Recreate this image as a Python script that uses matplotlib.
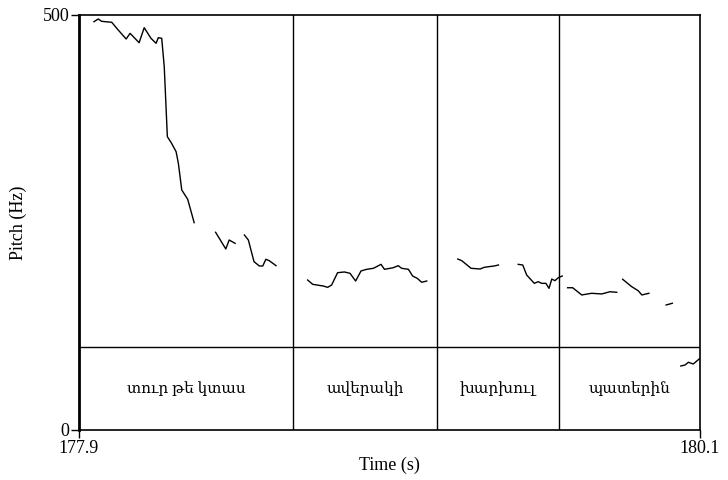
import matplotlib
matplotlib.use("Agg")
import matplotlib.pyplot as plt

plt.rcParams['font.family'] = ['Liberation Serif', 'DejaVu Serif']

# Pitch contour segments (time in s, pitch in Hz)
seg1_t = [177.953, 177.968, 177.980, 178.016, 178.039, 178.067, 178.081, 178.113, 178.131,
          178.155, 178.173, 178.181, 178.193, 178.202, 178.213, 178.228, 178.244, 178.252,
          178.264, 178.285, 178.308]
seg1_f = [491.9, 495.2, 492.4, 491.2, 481.9, 471.1, 477.9, 466.6, 484.7,
          471.9, 465.9, 472.7, 471.9, 437.7, 353.4, 345.4, 335.3, 321.3,
          289.2, 278.0, 249.8]
seg2_t = [178.384, 178.420, 178.432, 178.453]
seg2_f = [238.2, 218.1, 228.9, 224.9]
seg3_t = [178.486, 178.500, 178.520, 178.539, 178.551, 178.562, 178.574, 178.598]
seg3_f = [234.9, 228.9, 202.8, 197.6, 197.6, 205.7, 204.0, 198.0]
seg4_t = [178.710, 178.728, 178.765, 178.781, 178.795, 178.816, 178.840, 178.860, 178.880,
          178.899, 178.919, 178.943, 178.970, 178.982, 179.013, 179.031, 179.043, 179.067,
          179.082, 179.098, 179.114, 179.132]
seg4_f = [180.7, 175.5, 173.5, 171.9, 174.7, 189.5, 190.4, 188.8, 179.5,
          191.6, 193.6, 194.8, 199.6, 193.6, 195.5, 198.0, 194.8, 193.6,
          185.5, 182.8, 178.0, 179.5]
seg5_t = [179.242, 179.256, 179.289, 179.321, 179.336, 179.350, 179.371, 179.386]
seg5_f = [206.0, 204.0, 194.8, 194.0, 196.0, 196.7, 197.6, 198.8]
seg6_t = [179.456, 179.472, 179.486, 179.513, 179.527, 179.539, 179.554, 179.565, 179.575,
          179.586, 179.598, 179.612]
seg6_f = [199.6, 198.8, 186.7, 176.7, 178.7, 176.7, 176.7, 170.7, 181.9,
          179.9, 183.5, 185.5]
seg7_t = [179.631, 179.649, 179.681, 179.716, 179.752, 179.781, 179.805]
seg7_f = [171.4, 171.4, 162.7, 164.7, 163.9, 166.6, 165.9]
seg8_t = [179.826, 179.858, 179.881, 179.894, 179.919]
seg8_f = [181.6, 172.7, 167.8, 162.7, 164.7]
seg9_t = [179.980, 180.002]
seg9_f = [150.6, 152.7]
seg10_t = [180.032, 180.047, 180.059, 180.076, 180.100]
seg10_f = [77.1, 78.3, 81.6, 79.5, 86.4]

segments = [(seg1_t, seg1_f), (seg2_t, seg2_f), (seg3_t, seg3_f), (seg4_t, seg4_f),
            (seg5_t, seg5_f), (seg6_t, seg6_f), (seg7_t, seg7_f), (seg8_t, seg8_f),
            (seg9_t, seg9_f), (seg10_t, seg10_f)]

# TextGrid tier
t_start, t_end = 177.9, 180.1
boundaries = [178.658, 179.168, 179.599]
words = ["տուր թե կտաս", "ավերակի", "խարխուլ", "պատերին"]
f_min, f_max = 0, 500

fig = plt.figure(figsize=(7.28, 4.8), dpi=100)
ax = fig.add_axes([79/728, 50/480, 621/728, 415/480])
ax.set_xlim(t_start, t_end)
ax.set_ylim(f_min, f_max)

for t, f in segments:
    ax.plot(t, f, color='black', lw=1.0, solid_joinstyle='round')

# tier area: bottom 20% of the box
tier_frac = 0.2
ax.plot([0, 1], [tier_frac, tier_frac], transform=ax.transAxes, color='black', lw=1.0)
for b in boundaries:
    ax.axvline(b, color='black', lw=1.0)
edges = [t_start] + boundaries + [t_end]
for i, w in enumerate(words):
    mid = (edges[i] + edges[i + 1]) / 2
    ax.text(mid, tier_frac / 2, w, transform=ax.get_xaxis_transform(),
            ha='center', va='center', fontsize=11)

ax.set_xticks([t_start, t_end])
ax.set_xticklabels(["177.9", "180.1"])
ax.set_yticks([f_min, f_max])
ax.set_yticklabels(["0", "500"])
ax.tick_params(axis='both', direction='out', length=6, width=1, labelsize=13, pad=1)
ax.set_xlabel("Time (s)", fontsize=13, labelpad=0)
ax.set_ylabel("Pitch (Hz)", fontsize=13, labelpad=11)
for side in ['top', 'right', 'bottom']:
    ax.spines[side].set_linewidth(1.2)
ax.spines['left'].set_linewidth(2.0)

fig.savefig("out.png", dpi=100)
